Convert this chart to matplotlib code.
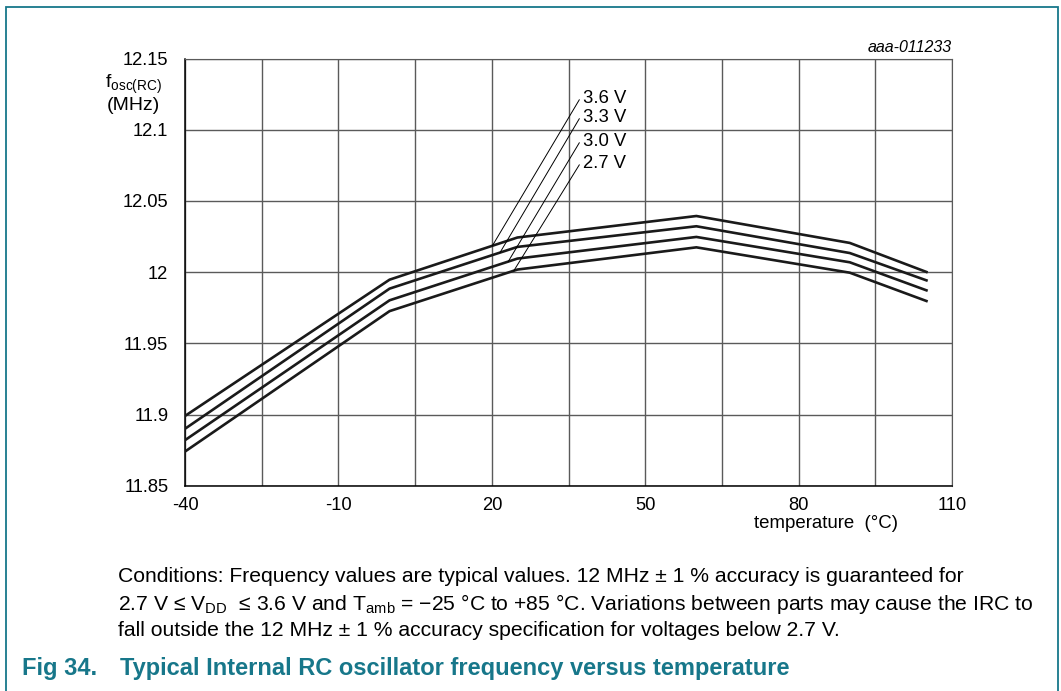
import numpy as np
import matplotlib
matplotlib.use("Agg")
import matplotlib.pyplot as plt
from matplotlib.patches import Rectangle

plt.rcParams['font.family'] = ['Liberation Sans', 'DejaVu Sans']
plt.rcParams['mathtext.fontset'] = 'custom'
plt.rcParams['mathtext.rm'] = 'Liberation Sans'
plt.rcParams['mathtext.it'] = 'Liberation Sans:italic'

# === data ===
temps = [-40, 0, 25, 60, 90, 105]
f_36 = [11.899, 11.9947, 12.0243, 12.0394, 12.0205, 12.0001]
f_33 = [11.890, 11.9884, 12.0177, 12.0322, 12.0134, 11.9942]
f_30 = [11.882, 11.9802, 12.0095, 12.0247, 12.0069, 11.9872]
f_27 = [11.874, 11.9726, 12.0018, 12.0174, 11.9996, 11.9797]
volt_labels = ["3.6 V", "3.3 V", "3.0 V", "2.7 V"]
leader_temps = [20.1, 21.6, 23.2, 24.3]
label_y = [12.1222, 12.1089, 12.092, 12.0765]

x_labels = [-40, -10, 20, 50, 80, 110]
y_ticks = [11.85, 11.9, 11.95, 12.0, 12.05, 12.1, 12.15]
y_labels = ["11.85", "11.9", "11.95", "12", "12.05", "12.1", "12.15"]

TEAL = "#17778a"

fig = plt.figure(figsize=(10.61, 6.91), dpi=100)
ax = fig.add_axes([0.1744, 0.2971, 0.7229, 0.6182])

series = [f_36, f_33, f_30, f_27]
for s in series:
    ax.plot(temps, s, color="#1a1a1a", lw=1.9, solid_joinstyle="miter", zorder=3)

# leader lines + voltage labels
for s, lab, lt, ly in zip(series, volt_labels, leader_temps, label_y):
    yc = np.interp(lt, temps, s)
    ax.plot([lt, 37.1], [yc, ly - 0.0012], color="black", lw=0.7, zorder=4)
    ax.text(37.8, ly, lab, fontsize=13.3, ha="left", va="center", zorder=5)

ax.set_xlim(-40, 110)
ax.set_ylim(11.85, 12.15)
ax.set_xticks(x_labels)
ax.set_xticks(np.arange(-25, 110, 30), minor=True)
ax.set_xticklabels([str(v) for v in x_labels])
ax.set_yticks(y_ticks)
ax.set_yticklabels(y_labels)
ax.tick_params(which="both", length=0, labelsize=13.2)
ax.tick_params(axis="y", pad=12)
ax.tick_params(axis="x", pad=8)
ax.grid(True, which="both", color="#5a5a5a", lw=1.0)
ax.set_axisbelow(True)
for side in ["top", "right"]:
    ax.spines[side].set_color("#5a5a5a")
for side in ["left", "bottom"]:
    ax.spines[side].set_color("black")
    ax.spines[side].set_linewidth(1.1)

fig.text(133 / 1061, 1 - 84 / 691, r"f$_{\mathregular{osc(RC)}}$", fontsize=14, ha="center", va="center")
fig.text(133 / 1061, 1 - 106 / 691, "(MHz)", fontsize=14, ha="center", va="center")
fig.text(826 / 1061, 1 - 523 / 691, "temperature  (°C)", fontsize=13.4, ha="center", va="center")
fig.text(952 / 1061, 1 - 47 / 691, "aaa-011233", fontsize=11.5, style="italic", ha="right", va="center")

cond = [
    "Conditions: Frequency values are typical values. 12 MHz \u00b1 1 % accuracy is guaranteed for",
    "2.7 V \u2264 V$_{\\mathregular{DD}}$  \u2264 3.6 V and T$_{\\mathregular{amb}}$ = \u221225 \u00b0C to +85 \u00b0C. "
    "Variations between parts may cause the IRC to",
    "fall outside the 12 MHz \u00b1 1 % accuracy specification for voltages below 2.7 V.",
]
for i, line in enumerate(cond):
    fig.text(118 / 1061, 1 - (577 + i * 26.5) / 691, line, fontsize=15.2, ha="left", va="center")

fig.text(22 / 1061, 1 - 669 / 691, "Fig 34.", fontsize=17, weight="bold", color=TEAL, ha="left", va="center")
fig.text(120 / 1061, 1 - 669 / 691, "Typical Internal RC oscillator frequency versus temperature",
         fontsize=17, weight="bold", color=TEAL, ha="left", va="center")

# teal frame (open at the bottom)
fig.add_artist(Rectangle((5.5 / 1061, -0.05), (1057.5 - 5.5) / 1061, 1 - 7.3 / 691 + 0.05,
                         transform=fig.transFigure, fill=False, edgecolor=TEAL, lw=1.3))

fig.savefig("out.png", dpi=100)
